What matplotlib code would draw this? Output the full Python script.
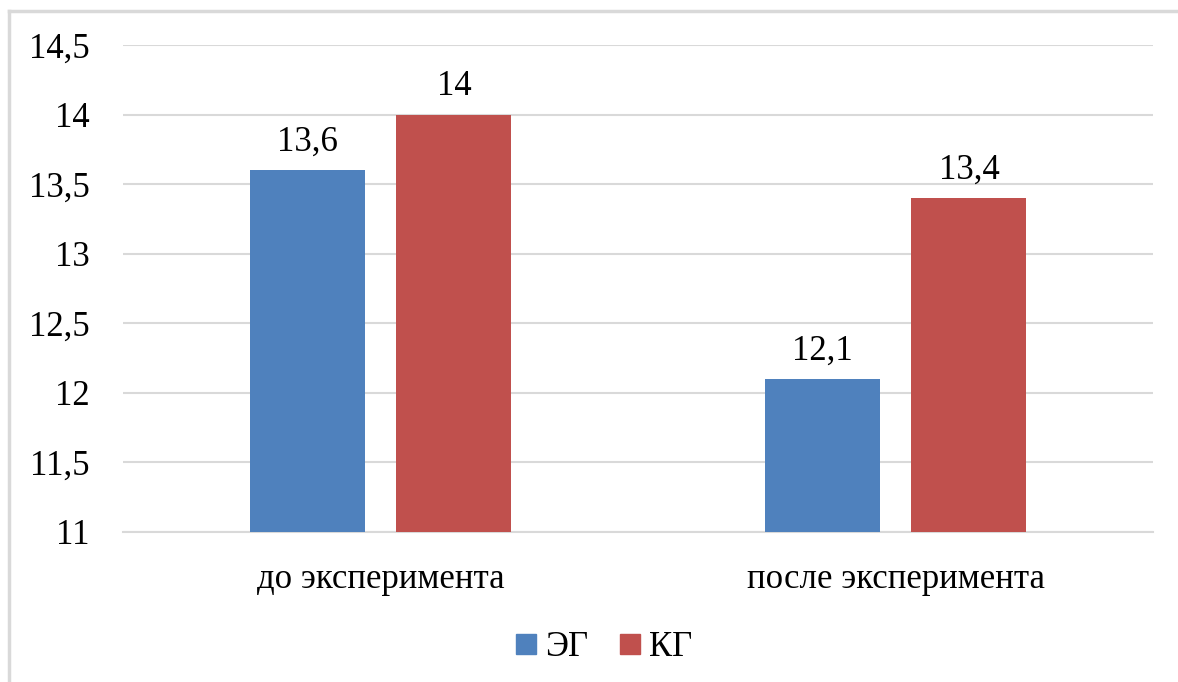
import matplotlib.pyplot as plt
import numpy as np
from matplotlib.lines import Line2D

# Data
categories = ["до эксперимента", "после эксперимента"]
series_names = ["ЭГ", "КГ"]
eg_values = [13.6, 12.1]
kg_values = [14.0, 13.4]
y_ticks = [11, 11.5, 12, 12.5, 13, 13.5, 14, 14.5]

colors = ["#4F81BD", "#C0504D"]
grid_color = "#D9D9D9"

FONT = 'Liberation Serif'
FS = 25
plt.rcParams['font.family'] = 'serif'
plt.rcParams['font.serif'] = [FONT, 'DejaVu Serif']


def fmt(v):
    s = f"{v:g}"
    return s.replace(".", ",")


fig = plt.figure(figsize=(11.78, 6.82), dpi=100)
ax = fig.add_axes((0.1044, 0.22, 0.8744, 0.714))

x = np.arange(len(categories))
width = 0.223
offset = width / 2 + 0.031

bars_eg = ax.bar(x - offset, eg_values, width, bottom=0, color=colors[0], zorder=3)
bars_kg = ax.bar(x + offset, kg_values, width, bottom=0, color=colors[1], zorder=3)

# Value labels above bars
for bars, vals in ((bars_eg, eg_values), (bars_kg, kg_values)):
    for b, v in zip(bars, vals):
        ax.annotate(fmt(v), (b.get_x() + b.get_width() / 2, v),
                    xytext=(0, 14), textcoords='offset points',
                    ha='center', va='baseline', fontsize=FS, family=FONT)

ax.set_ylim(11, 14.5)
ax.set_xlim(-0.5, 1.5)
ax.set_yticks(y_ticks)
ax.set_yticklabels([fmt(t) for t in y_ticks], fontsize=FS, family=FONT)
ax.set_xticks(x)
ax.set_xticklabels(categories, fontsize=FS, family=FONT)
ax.tick_params(axis='both', length=0)
ax.tick_params(axis='y', pad=24)
ax.tick_params(axis='x', pad=22)

ax.yaxis.grid(True, color=grid_color, linewidth=1.5, zorder=0)
for side in ('top', 'right', 'left'):
    ax.spines[side].set_visible(False)
ax.spines['bottom'].set_color(grid_color)
ax.spines['bottom'].set_linewidth(1.5)

# Legend
handles = [Line2D([0], [0], marker='s', linestyle='none', markersize=14,
                  markerfacecolor=c, markeredgecolor=c, label=n)
           for c, n in zip(colors, series_names)]
fig.legend(handles=handles, loc='center', bbox_to_anchor=(0.513, 0.05), ncol=2,
           frameon=False, prop={'family': FONT, 'size': FS}, handlelength=0.6,
           handletextpad=0.25, columnspacing=0.9)

# Chart frame
fig.add_artist(Line2D([9 / 1178, 9 / 1178], [0, 1 - 11 / 682], color=grid_color, linewidth=2.5))
fig.add_artist(Line2D([9 / 1178, 1], [1 - 11 / 682, 1 - 11 / 682], color=grid_color, linewidth=2.5))

fig.savefig("out.png", dpi=100, facecolor='white')
